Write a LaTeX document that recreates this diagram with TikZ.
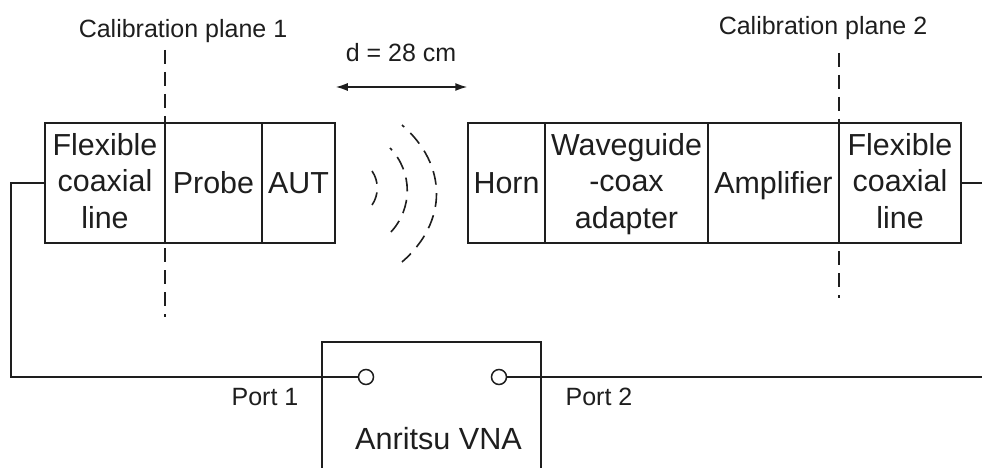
\documentclass[tikz,border=0pt]{standalone}
\usepackage{fontspec}
\setmainfont{Liberation Sans}
\usetikzlibrary{arrows.meta}
\definecolor{ink}{HTML}{1E1E1E}
\newcommand\celltop{\rule{0pt}{23.4pt}}
\newcommand\cellbot{\vphantom{p}}
\tikzset{
  x=1pt,y=-1pt,
  line/.style={draw=ink,line width=1.5pt},
  cell/.style={line,rectangle,minimum height=120pt,inner sep=0pt,text=ink,align=center,font=\fontsize{30.4}{36.5}\selectfont,anchor=center},
  single/.style={cell,text height=20pt,text depth=0pt},
  lbl/.style={text=ink,inner sep=0pt,font=\fontsize{25}{30}\selectfont,anchor=base},
  bigl/.style={text=ink,inner sep=0pt,font=\fontsize{30.6}{36}\selectfont,anchor=base},
  port/.style={line,circle,minimum size=15pt,inner sep=0pt,fill=white},
  planeline/.style={draw=ink,line width=1.3pt,dash pattern=on 14pt off 8pt},
  wave/.style={draw=ink,line width=1.6pt,dash pattern=on 13.8pt off 8.6pt},
  dim/.style={draw=ink,line width=1.5pt,{Latex[length=12pt,width=8pt]}-{Latex[length=12pt,width=8pt]}}
}
\begin{document}
\begin{tikzpicture}
\useasboundingbox (0,0) rectangle (982,468);
\fill[white] (0,0) rectangle (982,468);
\clip (0,0) rectangle (982,468);
% left chain
\node[cell,minimum width=120pt] (flexl) at (105,183) {\celltop Flexible\\coaxial\\line\cellbot};
\node[single,minimum width=97pt] (probe) at (213.5,183) {Probe};
\node[single,minimum width=73pt] (aut) at (298.5,183) {AUT};
% right chain
\node[single,minimum width=77pt] (horn) at (506.5,183) {Horn};
\node[cell,minimum width=163pt] (wg) at (626.5,183) {\celltop Waveguide\\-coax\\adapter\cellbot};
\node[single,minimum width=131pt] (amp) at (773.5,183) {Amplifier};
\node[cell,minimum width=122pt] (flexr) at (900,183) {\celltop Flexible\\coaxial\\line\cellbot};
% VNA
\coordinate (vnaBL) at (322,470);
\coordinate (vnaTL) at (322,342);
\coordinate (vnaTR) at (541,342);
\coordinate (vnaBR) at (541,470);
\draw[line] (vnaBL) -- (vnaTL) -- (vnaTR) -- (vnaBR);
\node[port] (p1) at (366,377) {};
\node[port] (p2) at (499,377) {};
\node[bigl] (vna) at (438.5,449) {Anritsu VNA};
\node[lbl] (p1l) at (265,405) {Port 1};
\node[lbl] (p2l) at (599,405) {Port 2};
% wiring
\coordinate (leftbend) at (11,183);
\coordinate (rightend) at (984,377);
\coordinate (rightend2) at (984,183);
\draw[line] (flexl.west) -- (leftbend) |- (p1.west);
\draw[line] (p2.east) -- (rightend);
\draw[line] (flexr.east) -- (rightend2);
% calibration planes
\node[lbl] (c1) at (183,37.5) {Calibration plane 1};
\node[lbl] (c2) at (823,34.5) {Calibration plane 2};
\coordinate (c1a) at (165,50);
\coordinate (c1b) at (165,317);
\coordinate (c2a) at (839,53);
\coordinate (c2b) at (839,298);
\draw[planeline] (c1a) -- (c1b);
\draw[planeline] (c2a) -- (c2b);
% distance
\node[lbl] (d) at (401,62) {d = 28 cm};
\draw[dim] (aut.east |- 0,87) coordinate (da) -- (horn.west |- 0,87) coordinate (db);
% waves
\draw[wave,dash phase=10.8pt] (402,125) .. controls (448,165) and (448,222) .. (402,262);
\draw[wave,dash phase=10.8pt] (390,148) .. controls (413,172) and (413,209) .. (390,233);
\draw[wave] (372,171) .. controls (379,181) and (379,195) .. (372,205);
\end{tikzpicture}
\end{document}
